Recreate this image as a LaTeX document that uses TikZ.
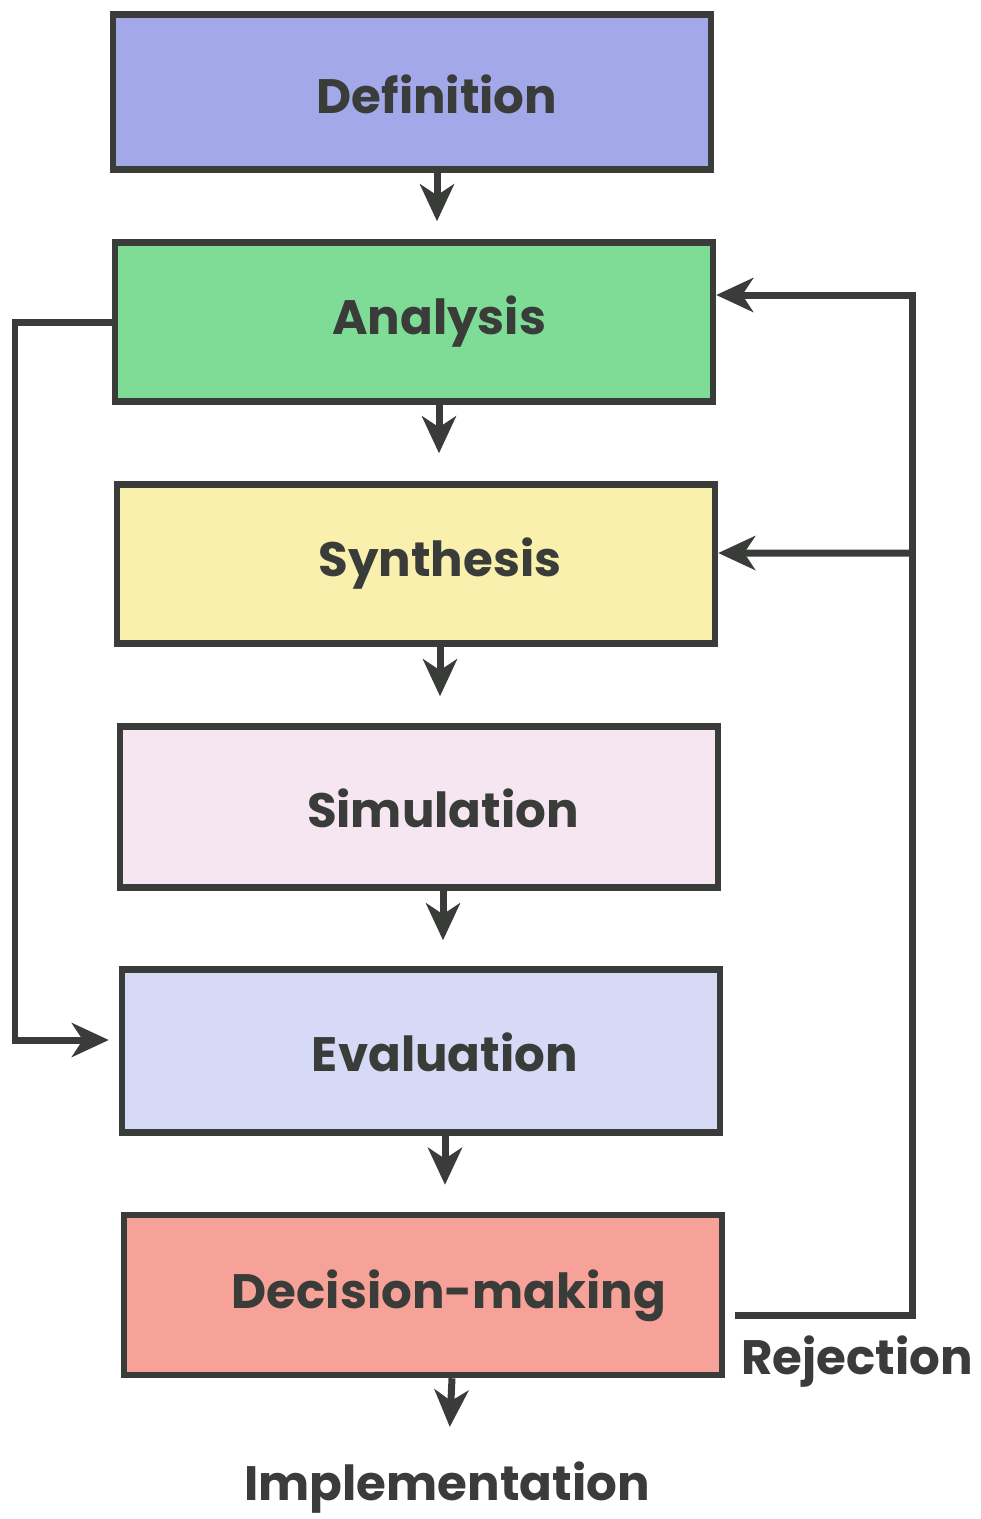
\documentclass[tikz,border=0pt]{standalone}
\usepackage{fontspec}
\setmainfont{Poppins}
\usetikzlibrary{arrows.meta}

\definecolor{ink}{RGB}{58,60,58}
\definecolor{defcol}{RGB}{162,168,232}
\definecolor{anacol}{RGB}{126,220,150}
\definecolor{syncol}{RGB}{248,240,172}
\definecolor{simcol}{RGB}{246,230,242}
\definecolor{evacol}{RGB}{214,218,246}
\definecolor{deccol}{RGB}{246,162,152}

\begin{document}
\begin{tikzpicture}[x=0.02cm,y=-0.02cm,
    stage/.style={draw=ink,line width=0.13cm,minimum width=11.96cm,minimum height=3.18cm,inner sep=0pt},
    word/.style={text=ink,font=\fontsize{27.5}{32}\selectfont\bfseries,inner sep=0pt},
    flow/.style={draw=ink,line width=0.14cm,-{Stealth[length=0.74cm,width=0.68cm,inset=0.22cm]}}]
\useasboundingbox (0,0) rectangle (981,1519);

% Stages
\node[stage,fill=defcol,minimum height=3.1cm] (def) at (412,92) {};
\node[stage,fill=anacol] (ana) at (414,322) {};
\node[stage,fill=syncol] (syn) at (416,564) {};
\node[stage,fill=simcol,minimum height=3.22cm] (sim) at (419,807) {};
\node[stage,fill=evacol,minimum height=3.26cm] (eva) at (421,1051) {};
\node[stage,fill=deccol,minimum height=3.2cm] (dec) at (423,1295) {};

% Labels
\node[word] (def-t) at (437,94) {Definition};
\node[word] (ana-t) at (439,322) {Analysis};
\node[word] (syn-t) at (440,564) {Synthesis};
\node[word] (sim-t) at (443,808) {Simulation};
\node[word] (eva-t) at (445,1052) {Evaluation};
\node[word] (dec-t) at (449,1296) {Decision-making};
\node[word] (imp) at (447,1488) {Implementation};
\node[word] (rej-t) at (857,1362) {Rejection};

% Main flow
\draw[flow,shorten >=0.36cm] (def-t |- def.south) -- (def-t |- ana.north);
\draw[flow,shorten >=0.56cm] (ana-t |- ana.south) -- (ana-t |- syn.north);
\draw[flow,shorten >=0.54cm] (syn-t |- syn.south) -- (syn-t |- sim.north);
\draw[flow,shorten >=0.52cm] (sim-t |- sim.south) -- (sim-t |- eva.north);
\draw[flow,shorten >=0.54cm] (eva-t |- eva.south) -- (eva-t |- dec.north);
\draw[flow,shorten >=0.7cm] (dec.south -| 452,0) -- (imp);

% Feedback loops
\coordinate (lft) at (15,322);
\coordinate (rej) at (735,1315);
\coordinate (rgt) at (912,1315);
\coordinate (brn) at (912,553);
\draw[flow,shorten >=0.2cm] (ana.west) -- (lft) |- ([yshift=0.22cm]eva.west);
\draw[flow] (rej) -- (rgt) |- ([yshift=0.54cm]ana.east);
\draw[flow] (brn) -- ([yshift=0.22cm]syn.east);
\end{tikzpicture}
\end{document}
